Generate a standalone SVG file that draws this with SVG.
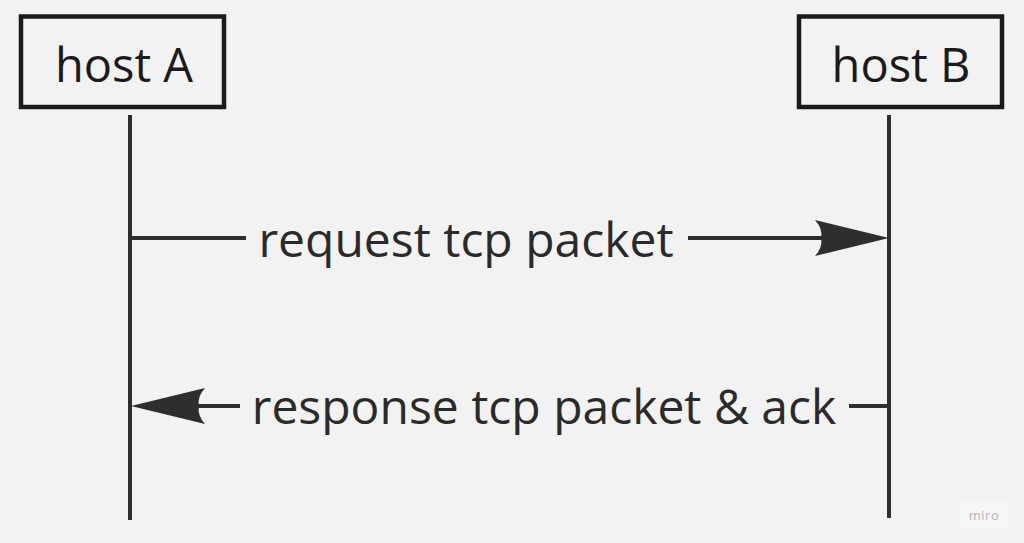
<svg xmlns="http://www.w3.org/2000/svg" xmlns:xlink="http://www.w3.org/1999/xlink" width="1024" height="543" viewBox="0 0 1024 543">
<style>
.box{fill:#f2f2f2;stroke:#1a1a1a;stroke-width:4.5}
.life{stroke:#2e2e2e;stroke-width:4;fill:none}
.line{stroke:#2e2e2e;stroke-width:4;fill:none}
.head{fill:#2e2e2e}
.title{font-family:"Open Sans","Noto Sans",sans-serif;font-size:47px;fill:#1a1a1a;text-anchor:middle}
.lbl{font-family:"Open Sans","Noto Sans",sans-serif;font-size:48px;fill:#2a2a2a;text-anchor:middle}
</style>
<defs>
<path id="ah" d="M0,0 L-74,-18 Q-66,-9 -68,0 Q-66,9 -74,18 Z"/>
</defs>
<rect width="1024" height="543" fill="#f2f2f2"/>
<g id="hostA">
<rect class="box" x="21" y="16.5" width="203" height="90.5"/>
<text class="title" x="124" y="82">host A</text>
</g>
<g id="hostB">
<rect class="box" x="799" y="16.5" width="203" height="90.5"/>
<text class="title" x="901" y="82">host B</text>
</g>
<g id="connectors">
<line class="life" x1="130" y1="115" x2="130" y2="520"/>
<line class="life" x1="889" y1="115" x2="889" y2="518"/>
<line class="line" x1="130" y1="238" x2="246" y2="238"/>
<line class="line" x1="688" y1="238" x2="822" y2="238"/>
<use href="#ah" xlink:href="#ah" class="head" transform="translate(889,238)"/>
<line class="line" x1="197" y1="406" x2="240" y2="406"/>
<line class="line" x1="849" y1="406" x2="889" y2="406"/>
<use href="#ah" xlink:href="#ah" class="head" transform="translate(131,406) rotate(180)"/>
</g>
<g id="labels">
<text class="lbl" x="466" y="257">request tcp packet</text>
<text class="lbl" x="544" y="424">response tcp packet &amp; ack</text>
</g>
<g id="watermark">
<rect x="960" y="502" width="48" height="26" fill="#f6f6f6"/>
<text x="984" y="520" font-family="'Open Sans','Noto Sans',sans-serif" font-size="13" fill="#b4b4bc" text-anchor="middle" letter-spacing="0.5">miro</text>
</g>
</svg>
